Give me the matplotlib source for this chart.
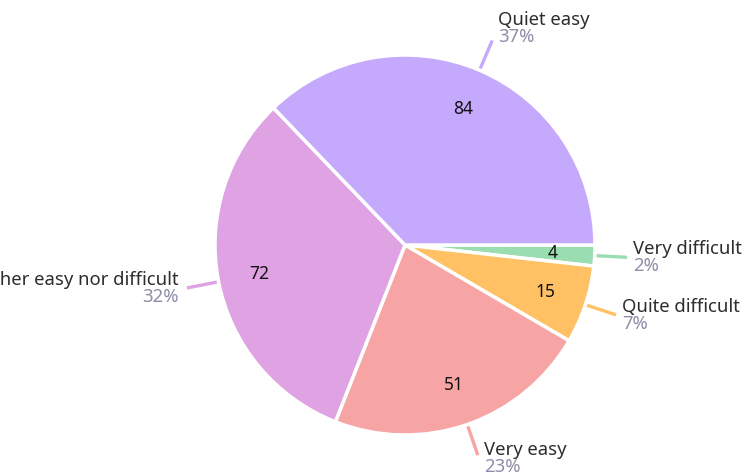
import numpy as np
import matplotlib.pyplot as plt

# slices in clockwise order, starting at 3 o'clock
labels = ['Very difficult', 'Quite difficult', 'Very easy', 'Neither easy nor difficult', 'Quiet easy']
counts = [4, 15, 51, 72, 84]
colors = ['#99DDB1', '#FFC163', '#F6A5A4', '#DFA2E2', '#C5A9FC']

W, H = 753, 475
cx, cy, r = 405, H - 245, 190

plt.rcParams['font.family'] = ['Noto Sans', 'DejaVu Sans']

fig = plt.figure(figsize=(W / 100, H / 100), dpi=100)
ax = fig.add_axes([0, 0, 1, 1])

wedges, _, autotexts = ax.pie(
    counts, colors=colors, startangle=0, counterclock=False,
    center=(cx, cy), radius=r, autopct=lambda p: '%d' % round(p * sum(counts) / 100),
    pctdistance=0.78, wedgeprops=dict(edgecolor='white', linewidth=2.5),
    textprops=dict(fontsize=12.5, color='#111111'), frame=True)
ax.set_xlim(0, W)
ax.set_ylim(0, H)
ax.set_aspect('equal')
ax.axis('off')

total = sum(counts)
for w, lab, n, col in zip(wedges, labels, counts, colors):
    ang = np.deg2rad((w.theta1 + w.theta2) / 2)
    c, s = np.cos(ang), np.sin(ang)
    x0, y0 = cx + r * 1.01 * c, cy + r * 1.01 * s
    x1, y1 = cx + r * 1.17 * c, cy + r * 1.17 * s
    ax.plot([x0, x1], [y0, y1], color=col, lw=2.4, solid_capstyle='butt')
    ha = 'left' if c >= 0 else 'right'
    tx = x1 + (6 if c >= 0 else -8)
    ty = y1 + (12 * s if s > 0 else 4 * s)
    ax.text(tx, ty, lab, ha=ha, va='bottom', fontsize=13.3, color='#2D2D2D')
    ax.text(tx, ty + 1, '%d%%' % round(n / total * 100), ha=ha, va='top',
            fontsize=13.3, color='#8E8EA8')

fig.savefig('out.png', dpi=100)
